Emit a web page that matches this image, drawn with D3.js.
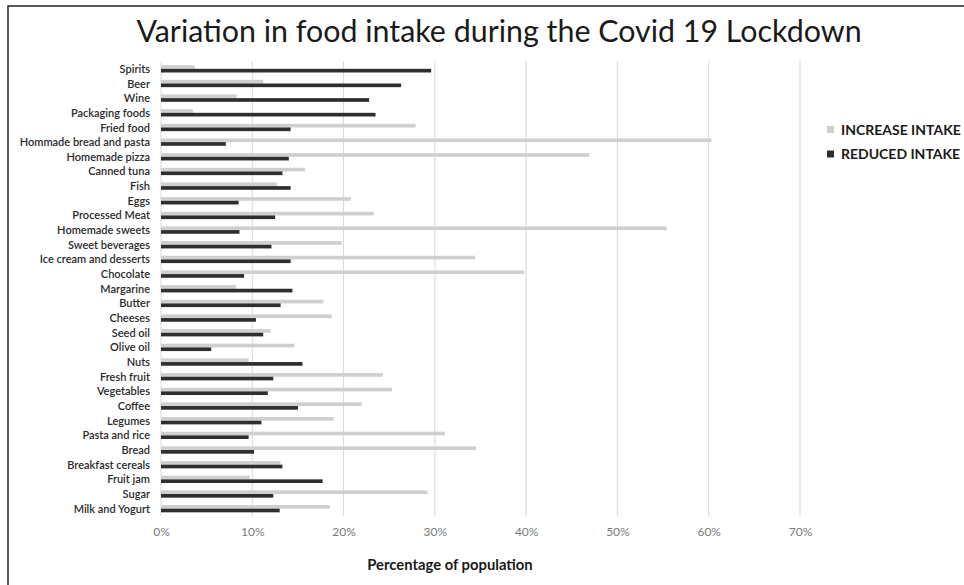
<!DOCTYPE html>
<html>
<head>
<meta charset="utf-8">
<script src="https://cdn.jsdelivr.net/npm/d3@7"></script>
<style>
  html, body { margin: 0; padding: 0; background: #fff; }
  svg { display: block; }
</style>
</head>
<body>
<svg id="chart" width="964" height="585"></svg>
<script>
// Food categories, listed top to bottom
const categories = [
  "Spirits", "Beer", "Wine", "Packaging foods", "Fried food",
  "Hommade bread and pasta", "Homemade pizza", "Canned tuna", "Fish", "Eggs",
  "Processed Meat", "Homemade sweets", "Sweet beverages", "Ice cream and desserts", "Chocolate",
  "Margarine", "Butter", "Cheeses", "Seed oil", "Olive oil",
  "Nuts", "Fresh fruit", "Vegetables", "Coffee", "Legumes",
  "Pasta and rice", "Bread", "Breakfast cereals", "Fruit jam", "Sugar",
  "Milk and Yogurt"
];

// Share of population (%) reporting increased intake
const increaseIntake = [
  3.7, 11.2, 8.3, 3.5, 27.9,
  60.3, 46.9, 15.8, 12.7, 20.8,
  23.3, 55.4, 19.8, 34.4, 39.8,
  8.2, 17.8, 18.7, 12.0, 14.6,
  9.6, 24.3, 25.3, 22.0, 18.9,
  31.1, 34.5, 13.1, 9.7, 29.2,
  18.5
];

// Share of population (%) reporting reduced intake
const reducedIntake = [
  29.6, 26.3, 22.8, 23.5, 14.2,
  7.1, 14.0, 13.3, 14.2, 8.5,
  12.5, 8.6, 12.1, 14.2, 9.1,
  14.4, 13.1, 10.4, 11.2, 5.5,
  15.5, 12.3, 11.7, 15.0, 11.0,
  9.6, 10.2, 13.3, 17.7, 12.3,
  13.0
];

const xTicks = [0, 10, 20, 30, 40, 50, 60, 70];

const seriesNames = ["INCREASE INTAKE", "REDUCED INTAKE"];
const seriesColors = ["#cfcfcf", "#2e2e2e"];

const rows = categories.map((c, i) => ({
  category: c,
  values: [increaseIntake[i], reducedIntake[i]]
}));

const svg = d3.select("#chart");

// Frame
svg.append("rect")
  .attr("x", 8).attr("y", 6)
  .attr("width", 1000).attr("height", 700)
  .attr("fill", "none")
  .attr("stroke", "#222")
  .attr("stroke-width", 1.5);

const x = d3.scaleLinear().domain([0, 70]).range([161, 800]);
const y = d3.scaleBand().domain(categories).range([61.5, 516]).padding(0);
const ySub = d3.scaleBand().domain([0, 1]).range([0, y.bandwidth()]).paddingInner(0).paddingOuter(1);

// Vertical gridlines
svg.append("g")
  .selectAll("line")
  .data(xTicks)
  .join("line")
  .attr("x1", d => x(d)).attr("x2", d => x(d))
  .attr("y1", 61).attr("y2", 516)
  .attr("stroke", "#d9d9d9")
  .attr("stroke-width", 1);

// Bars
const groups = svg.append("g")
  .selectAll("g")
  .data(rows)
  .join("g")
  .attr("transform", d => `translate(0,${y(d.category)})`);

groups.selectAll("rect")
  .data(d => d.values.map((v, k) => ({ v, k })))
  .join("rect")
  .attr("x", x(0))
  .attr("y", d => ySub(d.k))
  .attr("width", d => x(d.v) - x(0))
  .attr("height", ySub.bandwidth())
  .attr("fill", d => seriesColors[d.k]);

// Category axis labels
const yAxis = d3.axisLeft(y).tickSize(0).tickPadding(0);
const yg = svg.append("g")
  .attr("transform", "translate(150,0.5)")
  .call(yAxis);
yg.select(".domain").remove();
yg.selectAll("text")
  .attr("font-family", "Lato, 'Open Sans', sans-serif")
  .attr("font-size", 11)
  .attr("font-weight", 600)
  .attr("fill", "#2a2a2a");

// Percentage axis labels
const xAxis = d3.axisBottom(x).tickValues(xTicks).tickFormat(d => d + "%").tickSize(0).tickPadding(0);
const xg = svg.append("g")
  .attr("transform", "translate(0,527)")
  .call(xAxis);
xg.select(".domain").remove();
xg.selectAll("text")
  .attr("font-family", "Lato, 'Open Sans', sans-serif")
  .attr("font-size", 12)
  .attr("fill", "#7a7a7a");

// Title
svg.append("text")
  .attr("x", 499).attr("y", 42)
  .attr("text-anchor", "middle")
  .attr("font-family", "Lato, 'Open Sans', sans-serif")
  .attr("font-size", 30.4)
  .attr("fill", "#1a1a1a")
  .text("Variation in food intake during the Covid 19 Lockdown");

// Axis title
svg.append("text")
  .attr("x", 450).attr("y", 570)
  .attr("text-anchor", "middle")
  .attr("font-family", "Lato, 'Open Sans', sans-serif")
  .attr("font-size", 14.8)
  .attr("font-weight", 700)
  .attr("fill", "#1a1a1a")
  .text("Percentage of population");

// Legend
const legend = svg.append("g")
  .selectAll("g")
  .data(seriesNames)
  .join("g")
  .attr("transform", (d, i) => `translate(827,${126 + i * 24.5})`);
legend.append("rect")
  .attr("width", 7).attr("height", 7)
  .attr("fill", (d, i) => seriesColors[i]);
legend.append("text")
  .attr("x", 14).attr("y", 8.5)
  .attr("font-family", "Lato, 'Open Sans', sans-serif")
  .attr("font-size", 14)
  .attr("font-weight", 700)
  .attr("fill", "#1a1a1a")
  .text(d => d);
</script>
</body>
</html>
